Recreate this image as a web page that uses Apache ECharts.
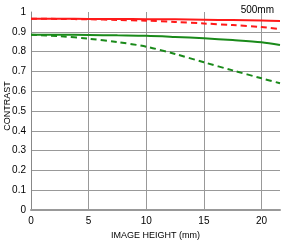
<!DOCTYPE html>
<html>
<head>
<meta charset="utf-8">
<script src="https://cdn.jsdelivr.net/npm/echarts@6/dist/echarts.min.js"></script>
<style>
  html, body { margin: 0; padding: 0; background: #fff; }
  #chart { width: 281px; height: 240px; }
</style>
</head>
<body>
<div id="chart"></div>
<script>
// image height positions (mm)
const heights = [0, 2.5, 5, 7.5, 10, 12.5, 15, 17.5, 20, 21.6];

// MTF values
const redSolid = [0.966, 0.966, 0.965, 0.965, 0.964, 0.963, 0.961, 0.959, 0.957, 0.955];
const redDashed = [0.966, 0.965, 0.963, 0.96, 0.956, 0.95, 0.942, 0.934, 0.924, 0.914];
const greenSolid = [0.885, 0.885, 0.884, 0.882, 0.88, 0.874, 0.867, 0.858, 0.847, 0.833];
const greenDashed = [0.885, 0.878, 0.865, 0.848, 0.825, 0.788, 0.746, 0.705, 0.665, 0.64];

const focal = '500mm';
const yTitle = 'CONTRAST';

function pairs(ys) {
  return heights.map((h, i) => [h, ys[i]]);
}

function line(data, color, dashed) {
  return {
    type: 'line',
    data: pairs(data),
    smooth: 0.3,
    symbol: 'none',
    lineStyle: { color: color, width: 2, type: dashed ? [6, 4] : 'solid' }
  };
}

const font = 'Liberation Sans, Arial, sans-serif';
const chart = echarts.init(document.getElementById('chart'));

chart.setOption({
  animation: false,
  grid: { left: 31, right: 1, top: 12, bottom: 30, outerBoundsMode: 'none', containLabel: false },
  title: {
    text: focal,
    right: 2,
    top: 0,
    textStyle: { fontSize: 10, fontWeight: 'normal', color: '#000', fontFamily: font }
  },
  // y axis title drawn as rotated text (axis name gets hidden near the edge)
  graphic: [{
    type: 'text',
    x: 8,
    y: 106,
    rotation: Math.PI / 2,
    style: {
      text: yTitle,
      fill: '#000',
      font: '9px ' + font,
      align: 'center',
      verticalAlign: 'middle'
    }
  }],
  xAxis: {
    type: 'value',
    min: 0,
    max: 21.6,
    interval: 5,
    name: 'IMAGE HEIGHT (mm)',
    nameLocation: 'middle',
    nameGap: 14,
    nameTextStyle: { fontSize: 9, color: '#000', fontFamily: font },
    axisLine: { lineStyle: { color: '#999', width: 2 } },
    axisTick: { show: false },
    axisLabel: { fontSize: 10, color: '#000', fontFamily: font, margin: 6, showMaxLabel: false },
    splitLine: { show: true, showMinLine: false, showMaxLine: false, lineStyle: { color: '#999', width: 1 } }
  },
  yAxis: {
    type: 'value',
    min: 0,
    max: 1,
    interval: 0.1,
    axisLine: { show: true, lineStyle: { color: '#888', width: 1 } },
    axisTick: { show: false },
    axisLabel: { fontSize: 10, color: '#000', fontFamily: font, margin: 5 },
    splitLine: { show: true, showMinLine: false, showMaxLine: false, lineStyle: { color: '#999', width: 1 } }
  },
  series: [
    line(greenDashed, '#1a8a1a', true),
    line(greenSolid, '#1a8a1a', false),
    line(redDashed, '#ff1a1a', true),
    line(redSolid, '#ff1a1a', false)
  ]
});
</script>
</body>
</html>
